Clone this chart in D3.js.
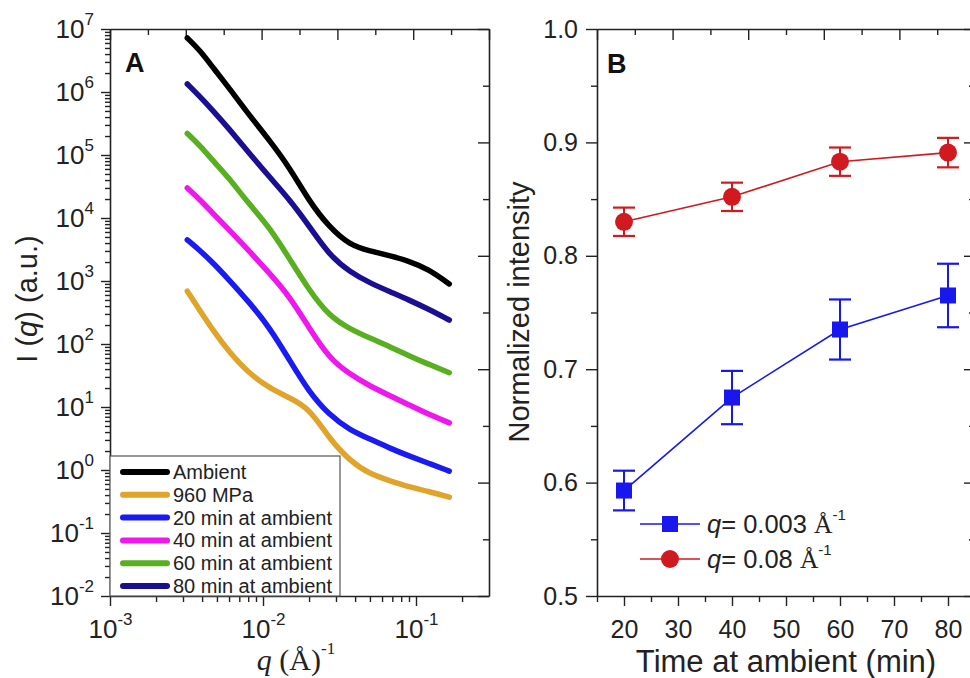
<!DOCTYPE html>
<html>
<head>
<meta charset="utf-8">
<script src="https://cdn.jsdelivr.net/npm/d3@7"></script>
<style>
  body { margin: 0; background: #fff; }
  svg { display: block; }
</style>
</head>
<body>
<svg id="chart" width="970" height="678"></svg>
<script>
// ---------- Panel A: SAXS profiles I(q) ----------
const qValues = [0.0032, 0.0039, 0.0048, 0.006, 0.008, 0.011, 0.015, 0.02, 0.027, 0.037, 0.05, 0.068, 0.09, 0.12, 0.165];
const ambient  = [7.2e6, 4.5e6, 2.3e6, 1.16e6, 4.5e5, 1.73e5, 6.2e4, 1.86e4, 7.2e3, 3.7e3, 3.0e3, 2.5e3, 2.07e3, 1.55e3, 900];
const mpa960   = [690, 330, 155, 75, 35, 20, 13.9, 9.6, 3.2, 1.39, 0.86, 0.67, 0.54, 0.46, 0.37];
const min20    = [4500, 3000, 1860, 1040, 480, 186, 54, 17.3, 7.5, 4.3, 3.1, 2.2, 1.67, 1.29, 0.96];
const min40    = [3.0e4, 1.93e4, 1.12e4, 6.5e3, 3.1e3, 1340, 560, 180, 60, 33, 21.5, 15, 10.8, 7.7, 5.6];
const min60    = [2.2e5, 1.39e5, 7.7e4, 4.3e4, 1.73e4, 7.2e3, 2.2e3, 720, 280, 173, 124, 90, 65, 48, 35];
const min80    = [1.34e6, 8.3e5, 4.8e5, 2.6e5, 1.12e5, 4.5e4, 1.93e4, 7.5e3, 2.6e3, 1390, 930, 670, 500, 360, 240];
const seriesNames  = ["Ambient", "960 MPa", "20 min at ambient", "40 min at ambient", "60 min at ambient", "80 min at ambient"];
const seriesValues = [ambient, mpa960, min20, min40, min60, min80];
const seriesColors = ["#000000", "#e0a42a", "#1a1af2", "#ee18ee", "#58b020", "#1a0f92"];
const yExponentsA = [-2, -1, 0, 1, 2, 3, 4, 5, 6, 7];
const xExponentsA = [-3, -2, -1];

// ---------- Panel B: normalized intensity vs time ----------
const times   = [20, 40, 60, 80];
const q003    = [0.593, 0.675, 0.735, 0.765];
const q003Err = [0.0175, 0.0235, 0.0265, 0.028];
const q008    = [0.830, 0.852, 0.883, 0.891];
const q008Err = [0.0125, 0.0125, 0.0125, 0.013];
const xTicksB = [20, 30, 40, 50, 60, 70, 80];
const yTicksB = [0.5, 0.6, 0.7, 0.8, 0.9, 1.0];

const sans  = "'Liberation Sans', Arial, sans-serif";
const serif = "'Liberation Serif', 'Times New Roman', serif";
const axisColor = "#222";

const svg = d3.select("#chart");

function styleAxis(g, width) {
  g.select(".domain").attr("stroke", axisColor).attr("stroke-width", width || 1.6);
  g.selectAll(".tick line").attr("stroke", axisColor).attr("stroke-width", 1.4);
  g.selectAll(".tick text").attr("fill", axisColor).attr("font-family", sans);
}

// mirror axes (top / right) carry plain linear divisions
function mirrorAxes(box) {
  const mx = d3.scaleLinear().domain([0, 1]).range([box.left, box.right]);
  const my = d3.scaleLinear().domain([0, 1]).range([box.bottom, box.top]);
  const major = d3.range(0, 1.0001, 0.2);
  const minor = d3.range(0.1, 1, 0.2);
  const top = svg.append("g").attr("transform", `translate(0,${box.top})`);
  top.call(d3.axisBottom(mx).tickValues(major).tickSize(11).tickSizeOuter(0).tickFormat(""));
  top.call(g => styleAxis(g));
  const topMinor = svg.append("g").attr("transform", `translate(0,${box.top})`);
  topMinor.call(d3.axisBottom(mx).tickValues(minor).tickSize(6).tickFormat(""));
  topMinor.call(g => { styleAxis(g); g.select(".domain").remove(); });
  const right = svg.append("g").attr("transform", `translate(${box.right},0)`);
  right.call(d3.axisLeft(my).tickValues(major).tickSize(11).tickSizeOuter(0).tickFormat(""));
  right.call(g => styleAxis(g));
  const rightMinor = svg.append("g").attr("transform", `translate(${box.right},0)`);
  rightMinor.call(d3.axisLeft(my).tickValues(minor).tickSize(6).tickFormat(""));
  rightMinor.call(g => { styleAxis(g); g.select(".domain").remove(); });
}

// ================= Panel A =================
const A = { left: 110, right: 489, top: 29, bottom: 596 };
const xA = d3.scaleLog().domain([1e-3, 0.3]).range([A.left, A.right]);
const yA = d3.scaleLog().domain([1e-2, 1e7]).range([A.bottom, A.top]);

mirrorAxes(A);

function powerLabel(sel, expOf) {
  sel.each(function(d) {
    const t = d3.select(this).text(null);
    t.append("tspan").text("10");
    t.append("tspan").attr("font-size", 17).attr("dy", "-0.75em").text(String(expOf(d)));
  });
}

// left axis (log)
const yMajorA = yExponentsA.map(e => Math.pow(10, e));
const yMinorA = [];
yExponentsA.slice(0, -1).forEach(e => { for (let m = 2; m <= 9; m++) yMinorA.push(m * Math.pow(10, e)); });
const gyA = svg.append("g").attr("transform", `translate(${A.left},0)`)
  .call(d3.axisLeft(yA).tickValues(yMajorA).tickSize(9).tickSizeOuter(0).tickPadding(10));
styleAxis(gyA);
gyA.selectAll(".tick text").attr("font-size", 26)
  .call(powerLabel, d => Math.round(Math.log10(d)));
gyA.selectAll(".tick text").attr("dx", 3);
const gyAm = svg.append("g").attr("transform", `translate(${A.left},0)`)
  .call(d3.axisLeft(yA).tickValues(yMinorA).tickSize(5).tickFormat(""));
styleAxis(gyAm); gyAm.select(".domain").remove();

// bottom axis (log)
const xMajorA = xExponentsA.map(e => Math.pow(10, e));
const xMinorA = [];
[-3, -2, -1].forEach(e => { for (let m = 2; m <= 9; m++) { const v = m * Math.pow(10, e); if (v <= 0.3) xMinorA.push(v); } });
const gxA = svg.append("g").attr("transform", `translate(0,${A.bottom})`)
  .call(d3.axisBottom(xA).tickValues(xMajorA).tickSize(10).tickSizeOuter(0).tickPadding(6));
styleAxis(gxA);
gxA.selectAll(".tick text").attr("font-size", 26).attr("dy", "1.0em")
  .call(powerLabel, d => Math.round(Math.log10(d)));
const gxAm = svg.append("g").attr("transform", `translate(0,${A.bottom})`)
  .call(d3.axisBottom(xA).tickValues(xMinorA).tickSize(6).tickFormat(""));
styleAxis(gxAm); gxAm.select(".domain").remove();

// curves
const lineA = d3.line()
  .x(d => xA(d[0]))
  .y(d => yA(d[1]))
  .curve(d3.curveBasis);
const curvesG = svg.append("g");
const drawOrder = [1, 2, 3, 4, 5, 0];
drawOrder.forEach(i => {
  const pts = qValues.map((q, k) => [q, seriesValues[i][k]]);
  curvesG.append("path")
    .attr("d", lineA(pts))
    .attr("fill", "none")
    .attr("stroke", seriesColors[i])
    .attr("stroke-width", 5.5)
    .attr("stroke-linecap", "round")
    .attr("stroke-linejoin", "round");
});

// panel letter
svg.append("text").attr("x", 125).attr("y", 72)
  .attr("font-family", sans).attr("font-weight", "bold").attr("font-size", 27)
  .attr("fill", "#111").text("A");

// legend
const legA = svg.append("g");
legA.append("rect").attr("x", A.left).attr("y", 456).attr("width", 230).attr("height", A.bottom - 456)
  .attr("fill", "#fff").attr("stroke", "#555").attr("stroke-width", 1.2);
seriesNames.forEach((name, i) => {
  const cy = 472 + i * 22.8;
  legA.append("line").attr("x1", 123).attr("x2", 167).attr("y1", cy).attr("y2", cy)
    .attr("stroke", seriesColors[i]).attr("stroke-width", 6).attr("stroke-linecap", "round");
  legA.append("text").attr("x", 173).attr("y", cy + 7)
    .attr("font-family", sans).attr("font-size", 20).attr("fill", "#222").text(name);
});

// axis titles
const ytA = svg.append("text")
  .attr("transform", `translate(37,299) rotate(-90)`)
  .attr("text-anchor", "middle").attr("font-family", sans).attr("font-size", 29).attr("fill", "#222");
ytA.append("tspan").text("I (");
ytA.append("tspan").attr("font-style", "italic").text("q");
ytA.append("tspan").text(") (a.u.)");

const xtA = svg.append("text")
  .attr("x", 296).attr("y", 670)
  .attr("text-anchor", "middle").attr("font-family", serif).attr("font-size", 30).attr("fill", "#222");
xtA.append("tspan").attr("font-style", "italic").text("q");
xtA.append("tspan").text(" (Å)");
xtA.append("tspan").attr("font-size", 17).attr("dy", "-0.95em").text("-1");

// ================= Panel B =================
const B = { left: 597, right: 975, top: 29, bottom: 596 };
const xB = d3.scaleLinear().domain([15, 85]).range([B.left, B.right]);
const yB = d3.scaleLinear().domain([0.5, 1.0]).range([B.bottom, B.top]);

mirrorAxes(B);

const gyB = svg.append("g").attr("transform", `translate(${B.left},0)`)
  .call(d3.axisLeft(yB).tickValues(yTicksB).tickSize(11).tickSizeOuter(0).tickPadding(8).tickFormat(d3.format(".1f")));
styleAxis(gyB);
gyB.selectAll(".tick text").attr("font-size", 25);
const gyBm = svg.append("g").attr("transform", `translate(${B.left},0)`)
  .call(d3.axisLeft(yB).tickValues(d3.range(0.55, 1.0, 0.1)).tickSize(6).tickFormat(""));
styleAxis(gyBm); gyBm.select(".domain").remove();

const gxB = svg.append("g").attr("transform", `translate(0,${B.bottom})`)
  .call(d3.axisBottom(xB).tickValues(xTicksB).tickSize(10).tickSizeOuter(0).tickPadding(8));
styleAxis(gxB);
gxB.selectAll(".tick text").attr("font-size", 25).attr("dy", "0.95em");
const gxBm = svg.append("g").attr("transform", `translate(0,${B.bottom})`)
  .call(d3.axisBottom(xB).tickValues(d3.range(15, 86, 10)).tickSize(6).tickFormat(""));
styleAxis(gxBm); gxBm.select(".domain").remove();

svg.append("text").attr("x", 607).attr("y", 73)
  .attr("font-family", sans).attr("font-weight", "bold").attr("font-size", 27)
  .attr("fill", "#111").text("B");

const lineB = d3.line().x(d => xB(d[0])).y(d => yB(d[1]));
const redC = "#d11a1f", blueC = "#1717ee";

function drawSeries(vals, errs, color, shape) {
  const g = svg.append("g");
  const pts = times.map((t, i) => [t, vals[i], errs[i]]);
  g.append("path").attr("d", lineB(pts)).attr("fill", "none")
    .attr("stroke", color).attr("stroke-width", 1.6);
  pts.forEach(p => {
    const x = xB(p[0]);
    const y1 = yB(p[1] - p[2]), y2 = yB(p[1] + p[2]);
    g.append("line").attr("x1", x).attr("x2", x).attr("y1", y1).attr("y2", y2)
      .attr("stroke", color).attr("stroke-width", 2);
    [y1, y2].forEach(yy => g.append("line").attr("x1", x - 11).attr("x2", x + 11)
      .attr("y1", yy).attr("y2", yy).attr("stroke", color).attr("stroke-width", 2.2));
    if (shape === "circle") {
      g.append("circle").attr("cx", x).attr("cy", yB(p[1])).attr("r", 9).attr("fill", color);
    } else {
      g.append("rect").attr("x", x - 8).attr("y", yB(p[1]) - 8).attr("width", 16).attr("height", 16).attr("fill", color);
    }
  });
}
drawSeries(q008, q008Err, redC, "circle");
drawSeries(q003, q003Err, blueC, "square");

// legend B
const legB = [
  { label: "0.003", color: blueC, shape: "square" },
  { label: "0.08", color: redC, shape: "circle" }
];
legB.forEach((d, i) => {
  const cy = 524 + i * 35;
  svg.append("line").attr("x1", 640).attr("x2", 700).attr("y1", cy).attr("y2", cy)
    .attr("stroke", d.color).attr("stroke-width", 1.6);
  if (d.shape === "circle") svg.append("circle").attr("cx", 670).attr("cy", cy).attr("r", 9).attr("fill", d.color);
  else svg.append("rect").attr("x", 662).attr("y", cy - 8).attr("width", 16).attr("height", 16).attr("fill", d.color);
  const t = svg.append("text").attr("x", 707).attr("y", cy + 9)
    .attr("font-family", sans).attr("font-size", 25.5).attr("fill", "#222");
  t.append("tspan").attr("font-style", "italic").text("q");
  t.append("tspan").text("= " + d.label + " ");
  t.append("tspan").attr("font-family", serif).text("Å");
  t.append("tspan").attr("font-size", 15).attr("dy", "-0.9em").text("-1");
});

// axis titles
svg.append("text")
  .attr("transform", `translate(529,312) rotate(-90)`)
  .attr("text-anchor", "middle").attr("font-family", sans).attr("font-size", 29).attr("fill", "#222")
  .text("Normalized intensity");
svg.append("text")
  .attr("x", 786).attr("y", 672)
  .attr("text-anchor", "middle").attr("font-family", sans).attr("font-size", 31).attr("fill", "#222")
  .text("Time at ambient (min)");
</script>
</body>
</html>
